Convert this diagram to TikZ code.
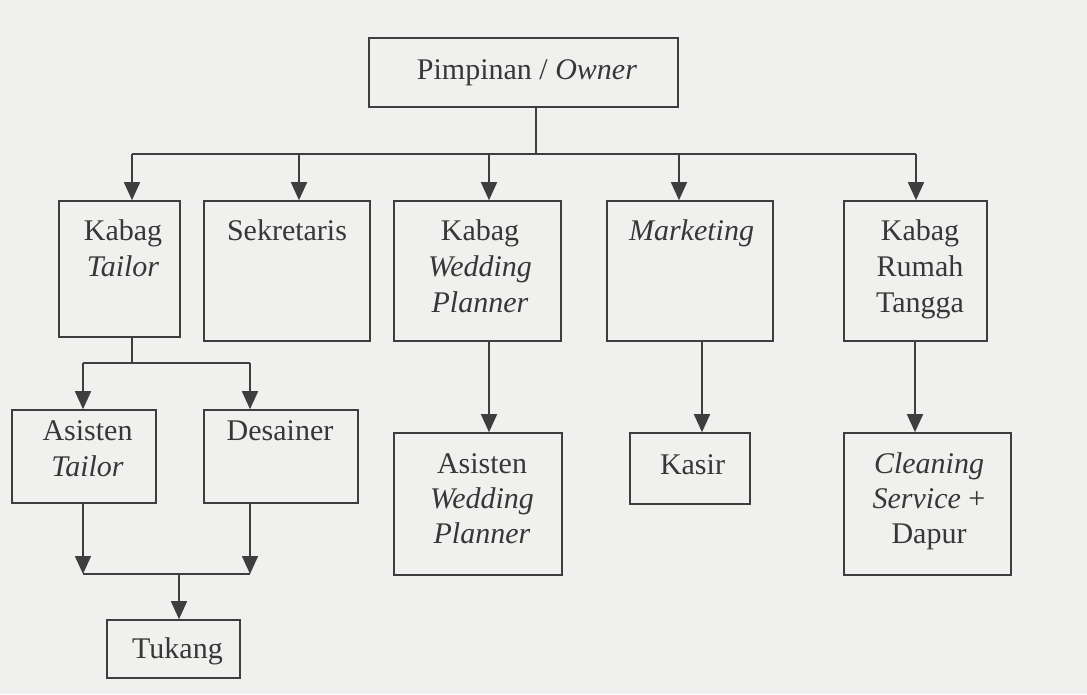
\documentclass[tikz,border=0pt]{standalone}
\usepackage{fontspec}
\setmainfont{Liberation Serif}
\usetikzlibrary{arrows.meta}
\definecolor{bg}{RGB}{240,240,238}
\definecolor{ink}{RGB}{62,62,62}
\definecolor{txtc}{RGB}{55,55,55}
\begin{document}
\begin{tikzpicture}[x=1pt,y=-1pt,
  boxsty/.style={draw=ink, line width=1.6pt, inner sep=0pt},
  txt/.style={text=txtc, font=\fontsize{30}{36}\selectfont, align=center, inner sep=0pt, anchor=base},
  ln/.style={draw=ink, line width=1.6pt},
  arr/.style={draw=ink, line width=1.6pt, -{Triangle[length=18pt,width=16pt]}}]
\fill[bg] (0,0) rectangle (1087,694);
\useasboundingbox (0,0) rectangle (1087,694);

% boxes
\node[boxsty, minimum width=309pt, minimum height=69pt]  (owner) at (523.5,72.5) {};
\node[boxsty, minimum width=121pt, minimum height=136pt] (kt)    at (119.5,269) {};
\node[boxsty, minimum width=166pt, minimum height=140pt] (sek)   at (287,271) {};
\node[boxsty, minimum width=167pt, minimum height=140pt] (kw)    at (477.5,271) {};
\node[boxsty, minimum width=166pt, minimum height=140pt] (mkt)   at (690,271) {};
\node[boxsty, minimum width=143pt, minimum height=140pt] (krt)   at (915.5,271) {};
\node[boxsty, minimum width=144pt, minimum height=93pt]  (at)    at (84,456.5) {};
\node[boxsty, minimum width=154pt, minimum height=93pt]  (des)   at (281,456.5) {};
\node[boxsty, minimum width=133pt, minimum height=58pt]  (tuk)   at (173.5,649) {};
\node[boxsty, minimum width=168pt, minimum height=142pt] (awp)   at (478,504) {};
\node[boxsty, minimum width=120pt, minimum height=71pt]  (kas)   at (690,468.5) {};
\node[boxsty, minimum width=167pt, minimum height=142pt] (cs)    at (927.5,504) {};

% texts (anchor = baseline of the last line)
\node[txt] (townr) at (527,79) {Pimpinan / \textit{Owner}};
\node[txt] (tkt)   at (123,276) {Kabag\\\textit{Tailor}};
\node[txt] (tsek)  at (287,240) {Sekretaris};
\node[txt, font=\fontsize{30}{36}\selectfont] (tkw) at (480,312) {Kabag\\\textit{Wedding}\\\textit{Planner}};
\node[txt] (tmkt)  at (691.5,240) {\textit{Marketing}};
\node[txt] (tkrt)  at (920,312) {Kabag\\Rumah\\Tangga};
\node[txt] (tat)   at (87.5,476) {Asisten\\\textit{Tailor}};
\node[txt] (tdes)  at (280,440) {Desainer};
\node[txt, font=\fontsize{30}{35}\selectfont] (tawp) at (482,543) {Asisten\\\textit{Wedding}\\\textit{Planner}};
\node[txt] (tkas)  at (692.5,474) {Kasir};
\node[txt, font=\fontsize{30}{35}\selectfont] (tcs) at (929,543) {\textit{Cleaning}\\\textit{Service} +\\Dapur};
\node[txt] (ttuk)  at (177.5,658) {Tukang};

% top distribution
\coordinate (bus) at (536,154);
\coordinate (j1) at (132,154);
\coordinate (j2) at (299,154);
\coordinate (j3) at (489,154);
\coordinate (j4) at (679,154);
\coordinate (j5) at (916,154);
\draw[ln] (bus |- owner.south) -- (bus);
\draw[ln] (j1) -- (j5);
\draw[arr] (j1) -- (j1 |- kt.north);
\draw[arr] (j2) -- (j2 |- sek.north);
\draw[arr] (j3) -- (j3 |- kw.north);
\draw[arr] (j4) -- (j4 |- mkt.north);
\draw[arr] (j5) -- (j5 |- krt.north);

% tailor branch
\coordinate (t0) at (132,363);
\coordinate (t1) at (83,363);
\coordinate (t2) at (250,363);
\draw[ln] (t0 |- kt.south) -- (t0);
\draw[ln] (t1) -- (t2);
\draw[arr] (t1) -- (t1 |- at.north);
\draw[arr] (t2) -- (t2 |- des.north);
\coordinate (b1) at (83,574);
\coordinate (b2) at (250,574);
\coordinate (b0) at (179,574);
\draw[arr] (b1 |- at.south) -- (b1);
\draw[arr] (b2 |- des.south) -- (b2);
\draw[ln] (b1) -- (b2);
\draw[arr] (b0) -- (b0 |- tuk.north);

% other branches
\coordinate (w0) at (489,0);
\coordinate (m0) at (702,0);
\coordinate (r0) at (915,0);
\draw[arr] (w0 |- kw.south) -- (w0 |- awp.north);
\draw[arr] (m0 |- mkt.south) -- (m0 |- kas.north);
\draw[arr] (r0 |- krt.south) -- (r0 |- cs.north);
\end{tikzpicture}
\end{document}
